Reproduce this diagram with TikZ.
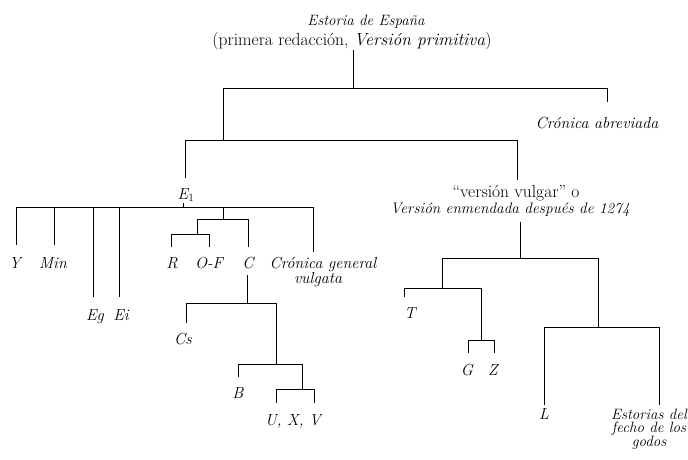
\documentclass[tikz,border=0pt]{standalone}
\usepackage{fontspec}
\begin{document}
\begin{tikzpicture}[x=1pt,y=-1pt,
  line/.style={line width=1pt},
  lab/.style={inner sep=0pt,font=\fontsize{16}{16}\selectfont\itshape},
  labr/.style={inner sep=0pt,font=\fontsize{17.5}{17.5}\selectfont},
  mlab/.style={inner sep=0pt,align=center,font=\fontsize{16}{16}\selectfont\itshape}]
\useasboundingbox (0,0) rectangle (688,459);
% root
\node[lab,anchor=base,font=\fontsize{15}{15}\selectfont\itshape] (root1) at (366,25) {Estoria de España};
\node[labr,anchor=base] (root) at (352,45) {(primera redacción, \textit{Versión primitiva})};
\coordinate (r0) at (353,50);
\coordinate (b1) at (353,88);
\coordinate (b1L) at (223,88);
\coordinate (b1R) at (607,88);
\coordinate (caE) at (607,102);
\node[lab,anchor=base] (ca) at (597,128) {Crónica abreviada};
\draw[line] (r0) -- (b1);
\draw[line] (caE) -- (b1R) -- (b1L) -- (223,140) coordinate (b2);
\coordinate (b2L) at (185,140);
\coordinate (b2R) at (517,140);
\draw[line] (185,178) coordinate (e1E) -- (b2L) -- (b2R) -- (517,180) coordinate (vvE);
% E1
\node[lab,anchor=base] (E1) at (186,199) {E\textsubscript{\normalfont 1}};
\coordinate (c1L) at (16,207);
\coordinate (c1R) at (313,207);
\draw[line] (c1L) -- (c1R);
\draw[line] (183,203) coordinate (e1S) -- (183,207);
\coordinate (yE) at (16,245);
\coordinate (minE) at (54,245);
\coordinate (egE) at (93,297);
\coordinate (eiE) at (119,297);
\coordinate (cgE) at (313,252);
\draw[line] (c1L) -- (yE);
\draw[line] (54,207) -- (minE);
\draw[line] (93,207) -- (egE);
\draw[line] (119,207) -- (eiE);
\draw[line] (c1R) -- (cgE);
\node[lab,anchor=base] (Y) at (15,268) {Y};
\node[lab,anchor=base] (Min) at (53,268) {Min};
\node[lab,anchor=base] (Eg) at (95,320) {Eg};
\node[lab,anchor=base] (Ei) at (121,320) {Ei};
\node[lab,anchor=base] (cg1) at (323,268) {Crónica general};
\node[lab,anchor=base] (cg2) at (318,283) {vulgata};
% R O-F C
\coordinate (s1) at (223,207);
\coordinate (s1b) at (223,219);
\draw[line] (s1) -- (s1b);
\draw[line] (197,234) coordinate (s2) -- (197,219) -- (248,219) -- (248,247) coordinate (cE);
\draw[line] (171,247) coordinate (rE) -- (171,234) -- (209,234) -- (209,247) coordinate (ofE);
\node[lab,anchor=base] (R) at (172,268) {R};
\node[lab,anchor=base] (OF) at (209,268) {O-F};
\node[lab,anchor=base] (C) at (248,268) {C};
% C subtree
\draw[line] (247,275) coordinate (cS) -- (247,303);
\draw[line] (186,323) coordinate (csE) -- (186,303) -- (276,303) -- (276,364) coordinate (d1);
\node[lab,anchor=base] (Cs) at (183,344) {Cs};
\draw[line] (238,377) coordinate (bE) -- (238,364) -- (302,364) -- (302,389) coordinate (d2);
\node[lab,anchor=base] (B) at (238,398) {B};
\draw[line] (276,403) coordinate (uE) -- (276,389) -- (314,389) -- (314,403) coordinate (vE);
\node[lab,anchor=base] (UXV) at (293,425) {U, X, V};
% version vulgar
\node[labr,anchor=base] (vv1) at (516,197) {``versión vulgar'' o};
\node[lab,anchor=base,font=\fontsize{15.3}{15.3}\selectfont\itshape] (vv2) at (510,213) {Versión enmendada después de 1274};
\draw[line] (520,222) coordinate (vvS) -- (520,258);
\draw[line] (442,258) coordinate (g1L) -- (598,258) coordinate (g1R);
\draw[line] (g1L) -- (442,288);
\draw[line] (404,297) coordinate (tE) -- (404,288) -- (481,288) -- (481,340) coordinate (g3);
\node[lab,anchor=base] (T) at (410,318) {T};
\draw[line] (468,353) coordinate (gE) -- (468,340) -- (494,340) -- (494,353) coordinate (zE);
\node[lab,anchor=base] (G) at (467,375) {G};
\node[lab,anchor=base] (Z) at (493,375) {Z};
\draw[line] (g1R) -- (598,327);
\draw[line] (544,405) coordinate (lE) -- (544,327) -- (659,327) -- (659,405) coordinate (efE);
\node[lab,anchor=base] (L) at (544,419) {L};
\node[mlab,anchor=base,font=\fontsize{15}{13.5}\selectfont\itshape] (ef) at (649,446) {Estorias del\\fecho de los\\godos};
\end{tikzpicture}
\end{document}
